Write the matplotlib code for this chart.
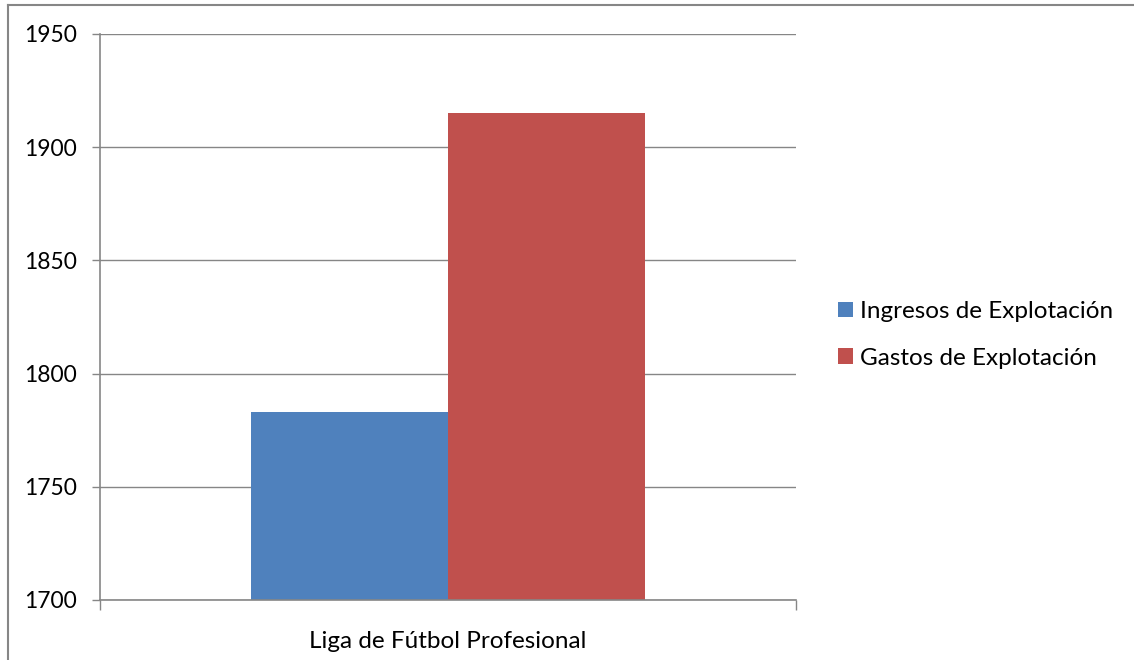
import matplotlib
matplotlib.use("Agg")
import matplotlib.pyplot as plt
from matplotlib.patches import Patch
from matplotlib.lines import Line2D

plt.rcParams['font.family'] = ['Lato', 'DejaVu Sans']

categories = ['Liga de Fútbol Profesional']
series_names = ['Ingresos de Explotación', 'Gastos de Explotación']
ingresos = [1783]
gastos = [1915]
colors = ['#4F81BD', '#C0504D']
yticks = [1700, 1750, 1800, 1850, 1900, 1950]

grey = '#868686'

fig = plt.figure(figsize=(11.34, 6.6), dpi=100)
ax = fig.add_axes([100 / 1134, 1 - 600 / 660, 696 / 1134, 566 / 660])

width = 197 / 696
ax.bar(0 - width / 2, ingresos[0], width=width, color=colors[0], bottom=0)
ax.bar(0 + width / 2, gastos[0], width=width, color=colors[1], bottom=0)

ax.set_xlim(-0.5, 0.5)
ax.set_ylim(1700, 1950)
ax.set_yticks(yticks)
ax.set_yticklabels([str(t) for t in yticks], fontsize=16.5)
ax.yaxis.grid(True, color=grey, linewidth=1)
ax.set_axisbelow(True)

# category ticks sit on the category boundaries
ax.set_xticks([-0.5, 0.5])
ax.set_xticklabels([])
ax.set_xticks([0], minor=True)
ax.set_xticklabels(categories, minor=True, fontsize=17.5)
ax.tick_params(axis='x', which='minor', length=0, pad=22)
ax.tick_params(axis='x', which='major', length=7, color=grey, width=1)
ax.tick_params(axis='y', length=6, color=grey, width=1, pad=10.5)

for side in ['top', 'right']:
    ax.spines[side].set_visible(False)
for side in ['left', 'bottom']:
    ax.spines[side].set_color(grey)
    ax.spines[side].set_linewidth(1.2)

handles = [Patch(facecolor=c) for c in colors]
fig.legend(handles, series_names, loc='center left',
           bbox_to_anchor=(826 / 1134, 1 - 335 / 660), frameon=False,
           fontsize=17.5, handlelength=0.6, handleheight=0.6,
           handletextpad=0.3, labelspacing=1.05, borderpad=0)

# chart area border (partially cropped in the original)
fig.add_artist(Line2D([8 / 1134, 8 / 1134], [0, 1 - 4.5 / 660],
                      transform=fig.transFigure, color=grey, linewidth=1.5))
fig.add_artist(Line2D([8 / 1134, 1], [1 - 4.5 / 660, 1 - 4.5 / 660],
                      transform=fig.transFigure, color=grey, linewidth=1.5))

fig.savefig('out.png', dpi=100)
